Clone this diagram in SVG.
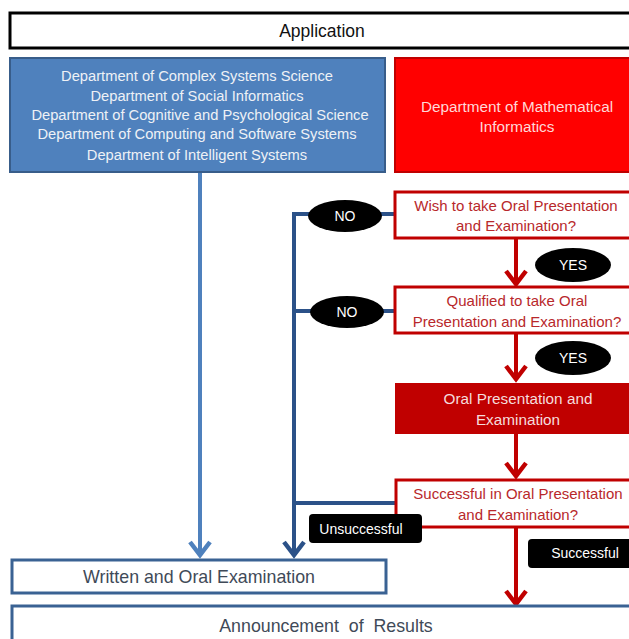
<svg xmlns="http://www.w3.org/2000/svg" width="629" height="639" viewBox="0 0 629 639">
<style>
text{font-family:"Liberation Sans",Arial,sans-serif;text-anchor:middle;dominant-baseline:central}
.t14{font-size:14.7px}
.t15{font-size:15.3px}
.q{fill:#fff;stroke:#c00000;stroke-width:3}
.qt{fill:#b8282b;font-size:15px}
.pill{fill:#000}
.pt{fill:#fff;font-size:14px}
.wb{fill:#fff;stroke:#3a6293;stroke-width:3}
.wt{fill:#3f4a58;font-size:17.8px}
.red{stroke:#c00000;stroke-width:4;fill:none;marker-end:url(#ar)}
.lb{stroke:#4f81bd;stroke-width:4;fill:none;marker-end:url(#al)}
.db{stroke:#2b5188;stroke-width:4;fill:none}
.dba{stroke:#2b5188;stroke-width:4;fill:none;marker-end:url(#ad)}
</style>
<defs>
<marker id="ar" markerUnits="userSpaceOnUse" markerWidth="30" markerHeight="30" viewBox="-20 -15 30 30" refX="0" refY="0" orient="auto">
<path d="M-13,-10 L0,0 L-13,10" fill="none" stroke="#c00000" stroke-width="4.5"/>
</marker>
<marker id="al" markerUnits="userSpaceOnUse" markerWidth="30" markerHeight="30" viewBox="-20 -15 30 30" refX="0" refY="0" orient="auto">
<path d="M-13,-10 L0,0 L-13,10" fill="none" stroke="#4f81bd" stroke-width="4.5"/>
</marker>
<marker id="ad" markerUnits="userSpaceOnUse" markerWidth="30" markerHeight="30" viewBox="-20 -15 30 30" refX="0" refY="0" orient="auto">
<path d="M-13,-10 L0,0 L-13,10" fill="none" stroke="#2b5188" stroke-width="4.5"/>
</marker>
</defs>

<g id="connectors">
<path class="lb" d="M200,172 V555"/>
<path class="db" d="M394,214 H294"/>
<path class="db" d="M394,311 H294"/>
<path class="db" d="M396,503 H294"/>
<path class="dba" d="M294,212 V555"/>
<path class="red" d="M516,239 V284"/>
<path class="red" d="M516,334 V379"/>
<path class="red" d="M516,434 V476"/>
<path class="red" d="M516,528 V604"/>
</g>

<g id="application">
<rect x="10" y="13" width="640" height="35" fill="#fff" stroke="#000" stroke-width="3"/>
<text x="322" y="31" font-size="17.5" fill="#111">Application</text>
</g>

<g id="depts">
<rect x="10" y="58" width="375" height="114" fill="#4f81bd" stroke="#385d8a" stroke-width="2"/>
<text class="t14" x="197" y="76" fill="#eef1f6">Department of Complex Systems Science</text>
<text class="t14" x="197" y="96" fill="#eef1f6">Department of Social Informatics</text>
<text class="t14" x="200" y="115" fill="#eef1f6">Department of Cognitive and Psychological Science</text>
<text class="t14" x="197" y="134" fill="#eef1f6">Department of Computing and Software Systems</text>
<text class="t14" x="197" y="155" fill="#eef1f6">Department of Intelligent Systems</text>
</g>

<g id="math">
<rect x="395" y="58" width="250" height="114" fill="#ff0000" stroke="#c00000" stroke-width="2"/>
<text class="t15" x="517" y="106" fill="#ffd8d8">Department of Mathematical</text>
<text class="t15" x="517" y="126" fill="#ffd8d8">Informatics</text>
</g>

<g id="wish">
<rect class="q" x="395" y="192" width="250" height="46"/>
<text class="qt" x="516" y="205">Wish to take Oral Presentation</text>
<text class="qt" x="516" y="225">and Examination?</text>
</g>

<g id="no1">
<ellipse class="pill" cx="345" cy="216" rx="37" ry="16"/>
<text class="pt" x="345" y="216">NO</text>
</g>

<g id="yes1">
<ellipse class="pill" cx="573" cy="265" rx="38" ry="17"/>
<text class="pt" x="573" y="265">YES</text>
</g>

<g id="qualified">
<rect class="q" x="395" y="287" width="250" height="46"/>
<text class="qt" x="517" y="300">Qualified to take Oral</text>
<text class="qt" x="517" y="321">Presentation and Examination?</text>
</g>

<g id="no2">
<ellipse class="pill" cx="347" cy="312" rx="37" ry="16"/>
<text class="pt" x="347" y="312">NO</text>
</g>

<g id="yes2">
<ellipse class="pill" cx="573" cy="358" rx="38" ry="17"/>
<text class="pt" x="573" y="358">YES</text>
</g>

<g id="oral">
<rect x="395" y="383" width="250" height="51" fill="#c00000"/>
<text class="t15" x="518" y="398" fill="#f5dcdc">Oral Presentation and</text>
<text class="t15" x="518" y="419" fill="#f5dcdc">Examination</text>
</g>

<g id="successq">
<rect class="q" x="396" y="480" width="250" height="47"/>
<text class="qt" x="518" y="493">Successful in Oral Presentation</text>
<text class="qt" x="518" y="514">and Examination?</text>
</g>

<g id="unsuccessful">
<rect class="pill" x="309" y="514" width="113" height="29" rx="4"/>
<text class="pt" x="361" y="529">Unsuccessful</text>
</g>

<g id="successful">
<rect class="pill" x="528" y="539" width="120" height="29" rx="4"/>
<text class="pt" x="585" y="553">Successful</text>
</g>

<g id="written">
<rect class="wb" x="12" y="560" width="374" height="33"/>
<text class="wt" x="199" y="577">Written and Oral Examination</text>
</g>

<g id="announce">
<rect class="wb" x="12" y="606" width="640" height="45"/>
<text class="wt" x="326" y="626" xml:space="preserve">Announcement  of  Results</text>
</g>
</svg>
